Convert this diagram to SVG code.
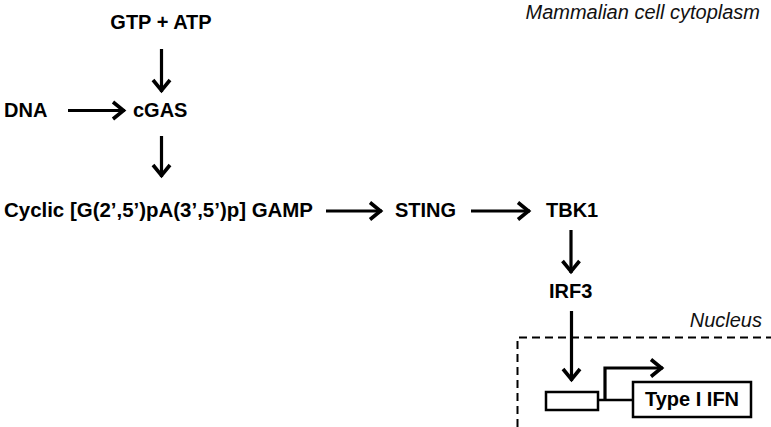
<svg xmlns="http://www.w3.org/2000/svg" width="771" height="427" viewBox="0 0 771 427">
<style>
.t{font-family:"Liberation Sans",Arial,sans-serif;font-weight:bold;font-size:20px;fill:#000}
.i{font-family:"Liberation Sans",Arial,sans-serif;font-style:italic;font-size:20px;fill:#111}
.c{stroke:#000;stroke-width:3.2;fill:none}
.b{stroke:#000;stroke-width:2.5;fill:#fff}
</style>
<defs>
<marker id="ah" markerUnits="userSpaceOnUse" markerWidth="24" markerHeight="24" viewBox="-16 -12 20 24" refX="0" refY="0" orient="auto">
<path d="M-12,-8.5 L-1.5,0 L-12,8.5" fill="none" stroke="#000" stroke-width="3.6" stroke-linejoin="miter"/>
</marker>
</defs>
<rect width="771" height="427" fill="#fff"/>
<g id="labels">
<text class="i" x="760" y="19" text-anchor="end">Mammalian cell cytoplasm</text>
<text class="i" x="762" y="327" text-anchor="end">Nucleus</text>
</g>
<g id="nucleus-border">
<path d="M517.5,427 V337.5 H771" fill="none" stroke="#000" stroke-width="2" stroke-dasharray="8,5"/>
</g>
<g id="gtp-atp"><text class="t" x="161" y="29" text-anchor="middle">GTP + ATP</text></g>
<g id="dna"><text class="t" x="4" y="117">DNA</text></g>
<g id="cgas"><text class="t" x="133" y="117">cGAS</text></g>
<g id="cgamp"><text class="t" x="4" y="217" textLength="309" lengthAdjust="spacingAndGlyphs">Cyclic [G(2’,5’)pA(3’,5’)p] GAMP</text></g>
<g id="sting"><text class="t" x="395" y="217">STING</text></g>
<g id="tbk1"><text class="t" x="546" y="217">TBK1</text></g>
<g id="irf3"><text class="t" x="549" y="298">IRF3</text></g>
<g id="promoter"><rect class="b" x="546" y="392" width="52" height="18"/></g>
<g id="type-i-ifn">
<rect class="b" x="633" y="382" width="118" height="35"/>
<text class="t" x="692" y="406" text-anchor="middle">Type I IFN</text>
</g>
<g id="connectors">
<line class="c" x1="161.5" y1="49" x2="161.5" y2="92" marker-end="url(#ah)"/>
<line class="c" x1="68" y1="110.5" x2="125" y2="110.5" marker-end="url(#ah)"/>
<line class="c" x1="161.5" y1="136" x2="161.5" y2="177" marker-end="url(#ah)"/>
<line class="c" x1="326" y1="211" x2="382" y2="211" marker-end="url(#ah)"/>
<line class="c" x1="471" y1="211" x2="530" y2="211" marker-end="url(#ah)"/>
<line class="c" x1="571" y1="230" x2="571" y2="273" marker-end="url(#ah)"/>
<line class="c" x1="571.5" y1="311" x2="571.5" y2="381" marker-end="url(#ah)"/>
<line class="c" x1="598" y1="400" x2="633" y2="400" style="stroke-width:2.5"/>
<path class="c" d="M605,400 V368 H663" marker-end="url(#ah)"/>
</g>
</svg>
